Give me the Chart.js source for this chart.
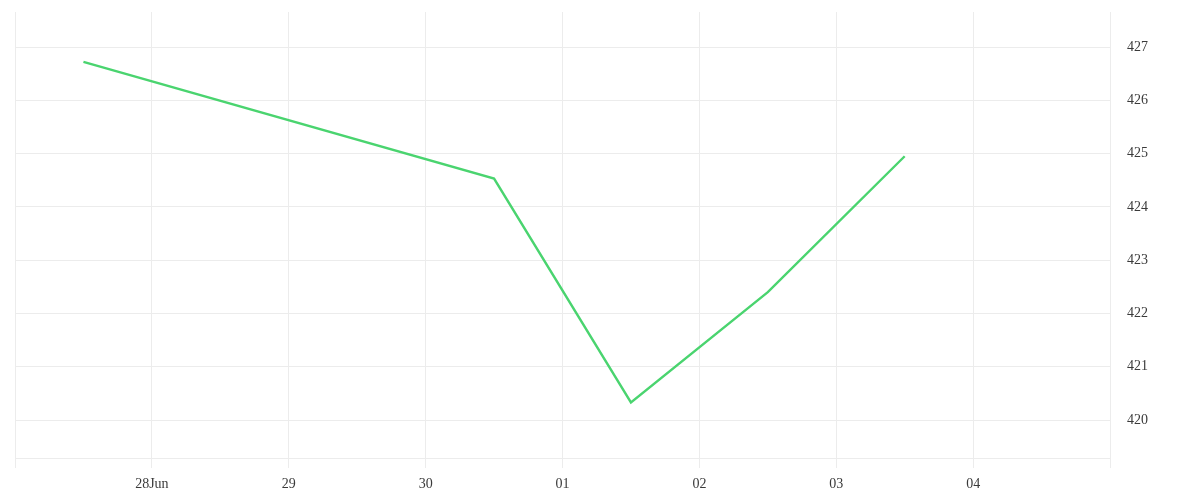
<!DOCTYPE html>
<html>
<head>
<meta charset="utf-8">
<script src="https://cdn.jsdelivr.net/npm/chart.js@4/dist/chart.umd.min.js"></script>
<style>
html,body{margin:0;padding:0;background:#fff;}
#wrap{width:1200px;height:500px;position:relative;}
</style>
</head>
<body>
<div id="wrap"><canvas id="c"></canvas></div>
<script>
// Days since 27 Jun (00:00); points fall at noon
const xDays = [0.5, 3.5, 4.5, 5.5, 6.5];
const values = [426.72, 424.53, 420.33, 422.40, 424.95];
// tick labels for day 0..8 (27 Jun .. 05 Jul); ends are unlabeled
const xTickLabels = ['', '28Jun', '29', '30', '01', '02', '03', '04', ''];
const yTickValues = [420, 421, 422, 423, 424, 425, 426, 427];

const gridColor = '#ececec';
const textColor = '#3a3a3a';
const fontSpec = {family: '"Liberation Serif", serif', size: 14};

new Chart(document.getElementById('c'), {
  type: 'line',
  data: {
    datasets: [{
      data: xDays.map((x, i) => ({x: x, y: values[i]})),
      borderColor: '#4ad46f',
      borderWidth: 2.4,
      pointRadius: 0,
      tension: 0,
      fill: false
    }]
  },
  options: {
    responsive: true,
    maintainAspectRatio: false,
    animation: false,
    layout: {padding: {left: 15, top: 12, right: 0, bottom: 0}},
    plugins: {legend: {display: false}, tooltip: {enabled: false}},
    scales: {
      x: {
        type: 'linear',
        min: 0,
        max: 8,
        grid: {color: gridColor, tickLength: 10, drawTicks: true},
        border: {color: gridColor},
        ticks: {
          stepSize: 1,
          autoSkip: false,
          maxRotation: 0,
          padding: 8,
          color: textColor,
          font: fontSpec,
          callback: (v) => xTickLabels[Math.round(v)] ?? ''
        },
        afterFit: (s) => { s.height = 42; s.paddingLeft = 0; s.paddingRight = 0; }
      },
      y: {
        type: 'linear',
        position: 'right',
        min: 419.287,
        max: 427.657,
        grid: {color: gridColor, drawTicks: false},
        border: {color: gridColor},
        ticks: {
          stepSize: 1,
          includeBounds: false,
          padding: 17,
          color: textColor,
          font: fontSpec,
          callback: (v) => yTickValues.includes(v) ? String(v) : ''
        },
        afterFit: (s) => { s.width = 90; s.paddingTop = 0; s.paddingBottom = 0; }
      }
    }
  }
});
</script>
</body>
</html>
